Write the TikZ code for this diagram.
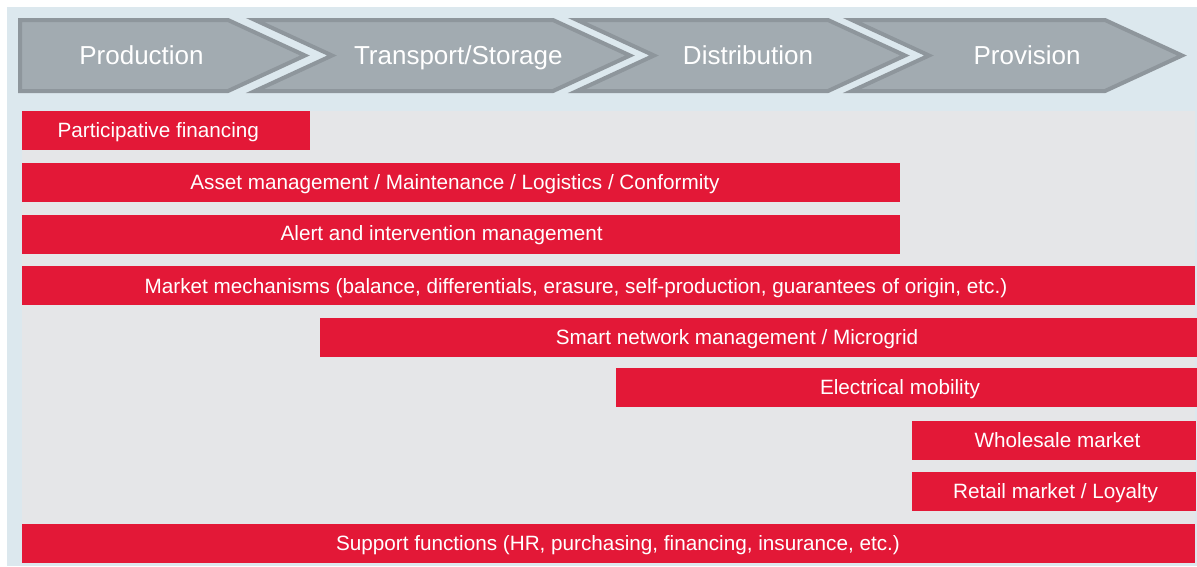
\documentclass[tikz,border=0pt]{standalone}
\usepackage{fontspec}
\setmainfont{Liberation Sans}
\definecolor{bgblue}{HTML}{DCE8EE}
\definecolor{areagrey}{HTML}{E5E6E8}
\definecolor{chevfill}{HTML}{A2ABB1}
\definecolor{chevline}{HTML}{8E969C}
\definecolor{barred}{HTML}{E31837}
\tikzset{
  chev/.style={draw=chevline, fill=chevfill, line width=4pt, line join=miter},
  chevtext/.style={text=white, font=\fontsize{26}{30}\selectfont, inner sep=0pt, anchor=base},
  bar/.style={fill=barred, inner sep=0pt, minimum height=39pt, anchor=north west},
  bartext/.style={text=white, font=\fontsize{20.7}{24}\selectfont, inner sep=0pt, anchor=base}
}
\begin{document}
\begin{tikzpicture}[x=1pt,y=-1pt]
\useasboundingbox (0,0) rectangle (1197,566);
\fill[white] (0,0) rectangle (1197,566);
\fill[bgblue] (7,7) rectangle (1197,566);
\fill[areagrey] (22,111) rectangle (1195,563);
% chevrons
\draw[chev] (20,20) -- (228,20) -- (305,55.5) -- (228,91) -- (20,91) -- cycle;
\draw[chev] (255,20) -- (553,20) -- (630,55.5) -- (553,91) -- (255,91) -- (332,55.5) -- cycle;
\draw[chev] (577,20) -- (828,20) -- (905,55.5) -- (828,91) -- (577,91) -- (654,55.5) -- cycle;
\draw[chev] (852,20) -- (1105,20) -- (1182,55.5) -- (1105,91) -- (852,91) -- (929,55.5) -- cycle;
\node[chevtext] (prod) at (141.5,64.5) {Production};
\node[chevtext] (trans) at (458.3,64.5) {Transport/Storage};
\node[chevtext] (dist) at (748,64.5) {Distribution};
\node[chevtext] (prov) at (1027,64.5) {Provision};
% bars
\node[bar, minimum width=288pt] (b1) at (22,111) {};
\node[bar, minimum width=878pt] (b2) at (22,163) {};
\node[bar, minimum width=878pt] (b3) at (22,214.5) {};
\node[bar, minimum width=1173pt] (b4) at (22,266) {};
\node[bar, minimum width=877pt] (b5) at (320,318) {};
\node[bar, minimum width=581pt] (b6) at (616,368) {};
\node[bar, minimum width=284pt] (b7) at (912,421) {};
\node[bar, minimum width=284pt] (b8) at (912,472) {};
\node[bar, minimum width=1173pt] (b9) at (22,524) {};
% bar texts
\node[bartext] (t1) at (158.3,137.6) {Participative financing};
\node[bartext] (t2) at (455,189.6) {Asset management / Maintenance / Logistics / Conformity};
\node[bartext] (t3) at (441.7,240.6) {Alert and intervention management};
\node[bartext] (t4) at (576,293.3) {Market mechanisms (balance, differentials, erasure, self-production, guarantees of origin, etc.)};
\node[bartext] (t5) at (737,344.7) {Smart network management / Microgrid};
\node[bartext] (t6) at (900,394.7) {Electrical mobility};
\node[bartext] (t7) at (1057.5,447.7) {Wholesale market};
\node[bartext] (t8) at (1055.5,498.7) {Retail market / Loyalty};
\node[bartext] (t9) at (618,550.7) {Support functions (HR, purchasing, financing, insurance, etc.)};
\end{tikzpicture}
\end{document}
